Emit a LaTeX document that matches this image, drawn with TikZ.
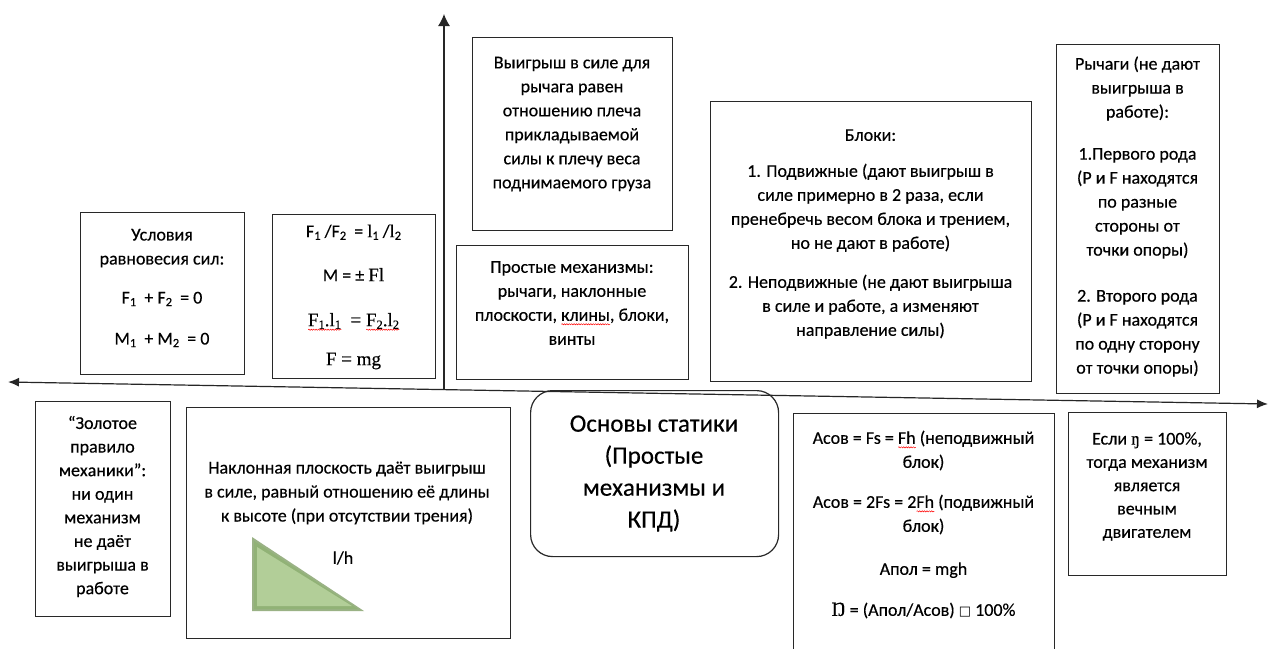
\documentclass[tikz,border=0pt]{standalone}
\usepackage{fontspec}
\setmainfont{Carlito}[FakeBold=0.35]
\newfontfamily\serfont{Liberation Serif}[FakeBold=0.3]
\newfontfamily\symfont{DejaVu Sans}
\usetikzlibrary{arrows.meta,decorations.pathmorphing}
\definecolor{edge}{RGB}{40,40,40}
\definecolor{trifill}{RGB}{178,206,152}
\definecolor{trimid}{RGB}{145,178,118}
\definecolor{triedge}{RGB}{110,145,80}
\newcommand\lsub[1]{\raisebox{-0.3ex}{\fontsize{12.5}{12}\selectfont #1}}
\newsavebox\wavebox
\newcommand\redwave[1]{\sbox\wavebox{#1}\leavevmode\rlap{\tikz[baseline=0pt]\draw[red,line width=0.5pt,decorate,decoration={snake,amplitude=0.6pt,segment length=2.4pt}] (0pt,-3.5pt) -- (\wd\wavebox,-3.5pt);}\usebox\wavebox}
\begin{document}
\begin{tikzpicture}[x=1pt,y=-1pt,
  box/.style={draw=edge,line width=1.2pt,inner sep=0pt,anchor=north west},
  txt/.style={align=center,inner sep=0pt,font=\fontsize{18}{24}\selectfont},
  axis/.style={line width=1.2pt,draw=black!85,{Latex[length=11pt,width=9pt]}-{Latex[length=11pt,width=9pt]}},
  vaxis/.style={line width=1.2pt,draw=black!85,-{Latex[length=12pt,width=12pt]}}]
\useasboundingbox (0,0) rectangle (1269,648);
\clip (0,0) rectangle (1269,648);
\fill[white] (0,0) rectangle (1269,648);

% axes
\coordinate (xl) at (8,382);
\coordinate (xr) at (1268,404);
\coordinate (yb) at (444,390);
\coordinate (yt) at (444,14);
\draw[axis] (xl) -- (xr);
\draw[vaxis] (yb) -- (yt);

% upper boxes
\node[box,minimum width=164,minimum height=162] (cond) at (80,212) {};
\node[txt] (cond-t) at (162,288) {Условия\\равновесия сил:\\[15pt]F\lsub1\ \ + F\lsub2\ \ = 0\\[17pt]M\lsub1\ \ + M\lsub2\ \ = 0};

\node[box,minimum width=163,minimum height=164] (lever) at (272,214) {};
\node[txt] (lever-t) at (353.5,297) {F\lsub1 /F\lsub2\ \ = {\serfont l}\lsub1 /{\serfont l}\lsub2\\[20pt]
  M = ± {\serfont\fontsize{19}{24}\selectfont Fl}\\[21pt]
  {\serfont\fontsize{19}{24}\selectfont\redwave{F\lsub1.l\lsub1}\ \ = \redwave{F\lsub2.l\lsub2}}\\[15pt]
  {\serfont\fontsize{19}{24}\selectfont F = mg}};

\node[box,minimum width=200,minimum height=193] (gain) at (472,37) {};
\node[txt] (gain-t) at (572,124) {Выигрыш в силе для\\рычага равен\\отношению плеча\\прикладываемой\\силы к плечу веса\\поднимаемого груза};

\node[box,minimum width=232,minimum height=134] (simple) at (456,245) {};
\node[txt] (simple-t) at (572,303) {Простые механизмы:\\рычаги, наклонные\\плоскости, \redwave{клины}, блоки,\\винты};

\node[box,minimum width=321,minimum height=280] (blocks) at (710,101) {};
\node[txt] (blocks-t) at (870.5,234) {Блоки:\\[12pt]1. Подвижные (дают выигрыш в\\силе примерно в 2 раза, если\\пренебречь весом блока и трением,\\но не дают в работе)\\[15pt]2. Неподвижные (не дают выигрыша\\в силе и работе, а изменяют\\направление силы)};

\node[box,minimum width=163,minimum height=349] (levers) at (1056,44) {};
\node[txt] (levers-t) at (1137.5,216.5) {Рычаги (не дают\\выигрыша в\\работе):\\[18pt]1.Первого рода\\(P и F находятся\\по разные\\стороны от\\точки опоры)\\[22pt]2. Второго рода\\(P и F находятся\\по одну сторону\\от точки опоры)};

% lower boxes
\node[box,minimum width=135,minimum height=215] (gold) at (35,401) {};
\node[txt,font=\fontsize{18}{23.6}\selectfont] (gold-t) at (102.5,506.5) {“Золотое\\правило\\механики”:\\ни один\\механизм\\не даёт\\выигрыша в\\работе};

\node[box,minimum width=324,minimum height=231] (incl) at (186,407) {};
\node[txt] (incl-t) at (347,493) {Наклонная плоскость даёт выигрыш\\в силе, равный отношению её длины\\к высоте (при отсутствии трения)};
\fill[triedge!70] (252,537) -- (252,611) -- (364,611) -- cycle;
\fill[trimid] (254,541) -- (254,609) -- (358,609) -- cycle;
\fill[trifill] (257,547) -- (257,606) -- (352,606) -- cycle;
\node[txt] (lh) at (343,558) {l/h};

\node[box,minimum width=248,minimum height=166,rounded corners=22pt] (main) at (530,390) {};
\node[align=center,inner sep=0pt,font=\fontsize{25}{32}\selectfont] (main-t) at (654,473.5) {Основы статики\\(Простые\\механизмы и\\КПД)};

\node[box,minimum width=261,minimum height=260] (work) at (793,413) {};
\node[txt] (work-t) at (923.5,524.5) {Асов = Fs = \redwave{Fh} (неподвижный\\блок)\\[16pt]Асов = 2Fs = 2\redwave{Fh} (подвижный\\блок)\\[19pt]Апол = mgh\\[17pt]{\serfont\fontsize{20}{24}\selectfont Ŋ} = (Апол/Асов) {\symfont\fontsize{13}{13}\selectfont □} 100\%};

\node[box,minimum width=158,minimum height=163] (perp) at (1068,412) {};
\node[txt,font=\fontsize{18}{23.3}\selectfont] (perp-t) at (1147,486.5) {Если {\serfont ŋ} = 100\%,\\тогда механизм\\является\\вечным\\двигателем};
\end{tikzpicture}
\end{document}
